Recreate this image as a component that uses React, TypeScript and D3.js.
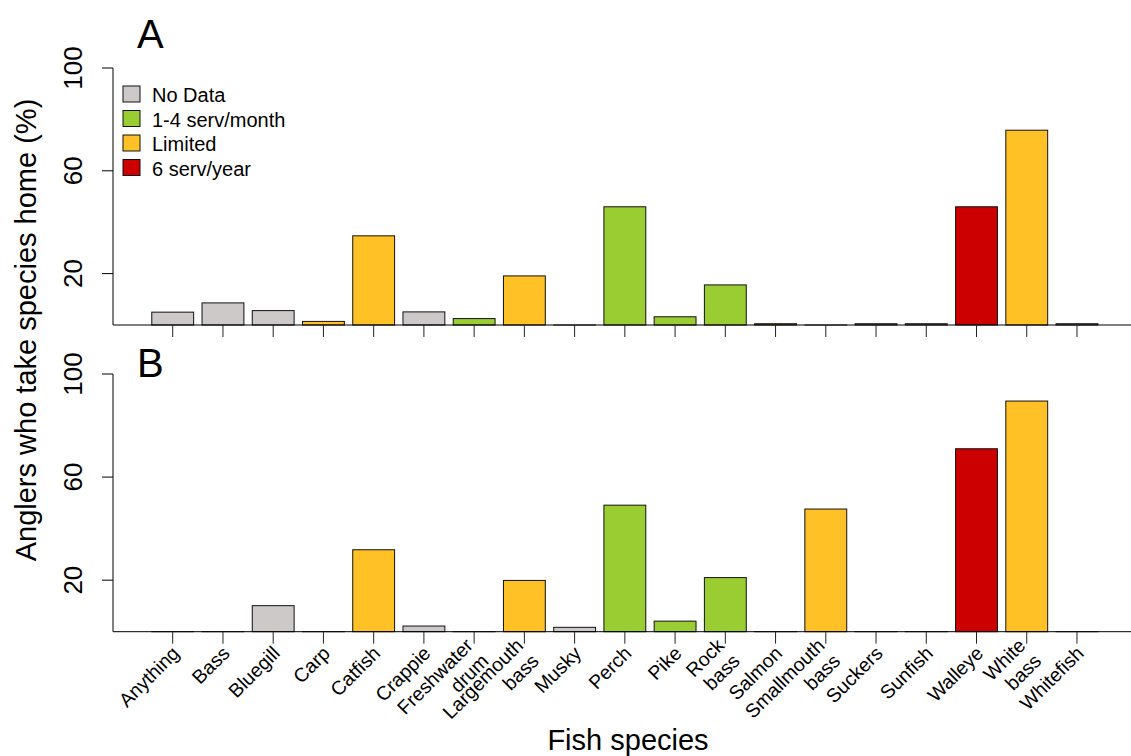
import React from 'react';
import * as d3 from 'd3';

// fish species shown on the x axis (\n = line break in label)
const species = [
  'Anything', 'Bass', 'Bluegill', 'Carp', 'Catfish', 'Crappie', 'Freshwater\ndrum',
  'Largemouth\nbass', 'Musky', 'Perch', 'Pike', 'Rock\nbass', 'Salmon',
  'Smallmouth\nbass', 'Suckers', 'Sunfish', 'Walleye', 'White\nbass', 'Whitefish',
];

// consumption advisory group of each species
const advisory = [
  'No Data', 'No Data', 'No Data', 'Limited', 'Limited', 'No Data', '1-4 serv/month',
  'Limited', 'No Data', '1-4 serv/month', '1-4 serv/month', '1-4 serv/month', 'Limited',
  'Limited', 'No Data', 'No Data', '6 serv/year', 'Limited', 'No Data',
];

// percent of anglers who take species home
const panelA = [5, 8.6, 5.6, 1.4, 34.7, 5.1, 2.5, 19.1, 0, 46, 3.2, 15.6, 0.5, 0, 0.5, 0.5, 46, 75.8, 0.5];
const panelB = [0, 0, 10.1, 0, 31.8, 2.2, 0, 19.9, 1.7, 49.1, 4.1, 21, 0, 47.6, 0, 0, 71, 89.5, 0];

const legendKeys = ['No Data', '1-4 serv/month', 'Limited', '6 serv/year'];
const legendColors = ['#CDC9C9', '#9ACD32', '#FFC125', '#CD0000'];
const yTicks = [20, 60, 100];

const font = 'Arial, "Liberation Sans", sans-serif';

const color = d3.scaleOrdinal<string, string>().domain(legendKeys).range(legendColors);

const x = d3.scaleBand<string>()
  .domain(species)
  .range([147.6, 1102.1])
  .paddingInner(0.1667)
  .paddingOuter(0.0833);

const Panel = ({ values, zeroY, topY, letter, letterY, showLabels, showLegend }) => {
  const y = d3.scaleLinear().domain([0, 100]).range([zeroY, topY]);
  return (
    <g>
      <text x={137} y={letterY} fontSize={40} fontFamily={font}>{letter}</text>

      {/* bars */}
      {species.map((s, i) => {
        const top = y(values[i]);
        return (
          <rect key={s} x={x(s)} y={top} width={x.bandwidth()}
            height={Math.max(zeroY - top, 0.01)}
            fill={color(advisory[i])} stroke="#111" strokeWidth={1} />
        );
      })}

      {/* y axis */}
      <line x1={113} x2={113} y1={y(100)} y2={zeroY} stroke="#000" />
      {yTicks.map((t) => (
        <g key={t}>
          <line x1={102} x2={113} y1={y(t)} y2={y(t)} stroke="#000" />
          <text transform={`translate(82, ${y(t)}) rotate(-90)`} textAnchor="middle"
            fontSize={26} fontFamily={font}>{t}</text>
        </g>
      ))}

      {/* x axis */}
      <line x1={113} x2={1131} y1={zeroY} y2={zeroY} stroke="#000" />
      {species.map((s) => {
        const cx = x(s) + x.bandwidth() / 2;
        return <line key={s} x1={cx} x2={cx} y1={zeroY} y2={zeroY + 12} stroke="#222" />;
      })}

      {showLabels && species.map((s) => {
        const cx = x(s) + x.bandwidth() / 2;
        const lines = s.split('\n');
        return (
          <text key={s} transform={`translate(${cx + 3}, ${zeroY + 18}) rotate(-45)`}
            textAnchor="end" fontSize={19.5} fontFamily={font}>
            {lines.map((ln, k) => (
              <tspan key={k} x={0} y={(k - (lines.length - 1) / 2) * 22} dy="0.35em">{ln}</tspan>
            ))}
          </text>
        );
      })}

      {showLegend && legendKeys.map((k, i) => (
        <g key={k} transform={`translate(123, ${86 + i * 24.5})`}>
          <rect width={17} height={16} fill={legendColors[i]} stroke="#111" />
          <text x={29} y={9} dy="0.35em" fontSize={20} fontFamily={font}>{k}</text>
        </g>
      ))}
    </g>
  );
};

export default function App() {
  return (
    <svg width={1131} height={756} style={{ position: 'absolute', left: 0, top: 0, background: '#fff' }}>
      <Panel values={panelA} zeroY={325} topY={68} letter="A" letterY={48} showLabels={false} showLegend={true} />
      <Panel values={panelB} zeroY={631.7} topY={374} letter="B" letterY={377} showLabels={true} showLegend={false} />
      <text transform="translate(36, 330) rotate(-90)" textAnchor="middle" fontSize={29} fontFamily={font}>
        Anglers who take species home (%)
      </text>
      <text x={628} y={750} textAnchor="middle" fontSize={29} fontFamily={font}>Fish species</text>
    </svg>
  );
}
